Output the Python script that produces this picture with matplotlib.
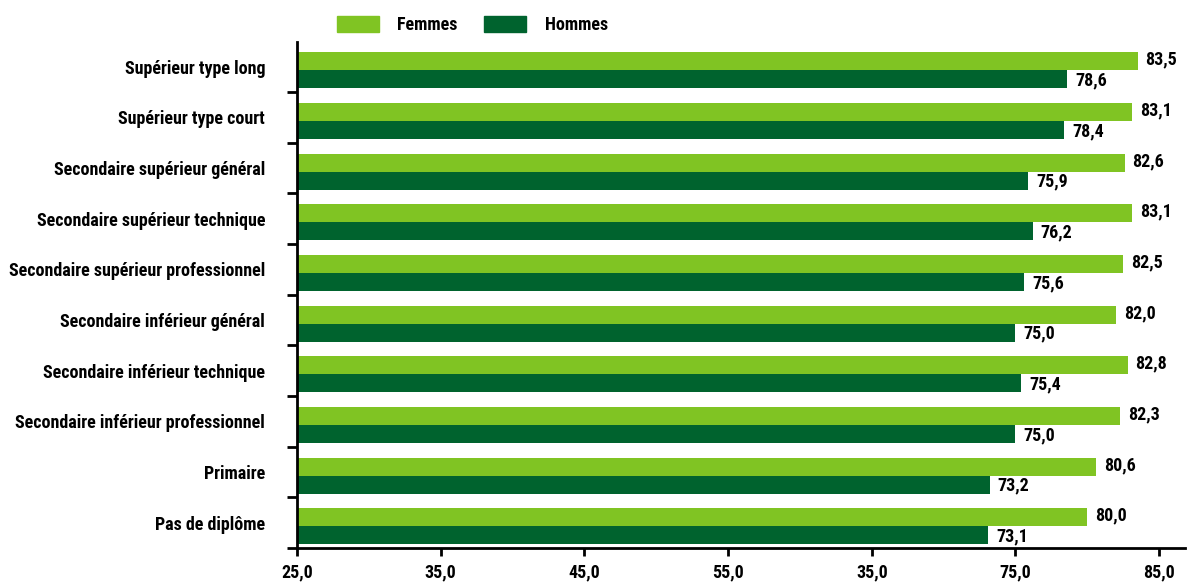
import matplotlib
matplotlib.use("Agg")
import matplotlib.pyplot as plt
from matplotlib import font_manager
from matplotlib.patches import Patch
import numpy as np

categories = [
    "Supérieur type long",
    "Supérieur type court",
    "Secondaire supérieur général",
    "Secondaire supérieur technique",
    "Secondaire supérieur professionnel",
    "Secondaire inférieur général",
    "Secondaire inférieur technique",
    "Secondaire inférieur professionnel",
    "Primaire",
    "Pas de diplôme",
]
femmes = [83.5, 83.1, 82.6, 83.1, 82.5, 82.0, 82.8, 82.3, 80.6, 80.0]
hommes = [78.6, 78.4, 75.9, 76.2, 75.6, 75.0, 75.4, 75.0, 73.2, 73.1]
xticks = [25, 35, 45, 55, 65, 75, 85]
xtick_labels = ["25,0", "35,0", "45,0", "55,0", "35,0", "75,0", "85,0"]

available = {f.name for f in font_manager.fontManager.ttflist}
family = "DejaVu Sans"
for cand in ["Roboto Condensed", "Liberation Sans Narrow", "Open Sans Condensed", "DejaVu Sans Condensed", "Liberation Sans"]:
    if cand in available:
        family = cand
        break
plt.rcParams["font.family"] = family
plt.rcParams["font.weight"] = "bold"

c_f = "#80C423"
c_h = "#00632E"

fig = plt.figure(figsize=(11.9, 5.83), dpi=100)
ax = fig.add_axes([297/1190, 35/583, 888/1190, 506.5/583])

n = len(categories)
pos = np.arange(n)
h = 0.355
shift = 0.07
ax.barh(pos - h/2 + shift, femmes, height=h, color=c_f)
ax.barh(pos + h/2 + shift, hommes, height=h, color=c_h)

fs = 13
for i in range(n):
    ax.text(femmes[i] + 0.55, pos[i] - h/2 + shift - 0.03, f"{femmes[i]:.1f}".replace(".", ","),
            va="center", ha="left", fontsize=fs, fontweight="bold")
    ax.text(hommes[i] + 0.55, pos[i] + h/2 + shift + 0.02, f"{hommes[i]:.1f}".replace(".", ","),
            va="center", ha="left", fontsize=fs, fontweight="bold")

ax.set_xlim(25, 86.8)
ax.set_ylim(n - 0.5, -0.5)
ax.set_xticks(xticks)
ax.set_xticklabels(xtick_labels, fontsize=fs, fontweight="bold")
ax.set_yticks(pos)
ax.set_yticklabels(categories, fontsize=fs, fontweight="bold")
ax.tick_params(axis="y", length=0, pad=23)
ax.set_yticks(np.arange(1, n + 1) - 0.5, minor=True)
ax.tick_params(axis="y", which="minor", length=7, width=2, direction="out")
ax.tick_params(axis="x", length=6, width=2, direction="out", pad=5)
for s in ["top", "right"]:
    ax.spines[s].set_visible(False)
for s in ["left", "bottom"]:
    ax.spines[s].set_linewidth(2)

handles = [Patch(color=c_f, label="Femmes"), Patch(color=c_h, label="Hommes")]
fig.legend(handles=handles, loc="center left", bbox_to_anchor=(337/1190, 1 - 25/583),
           ncol=2, frameon=False, handlelength=2.3, handleheight=1.0,
           columnspacing=1.45, handletextpad=1.05, borderpad=0, borderaxespad=0,
           prop={"weight": "bold", "size": fs})

fig.savefig("out.png", dpi=100)
